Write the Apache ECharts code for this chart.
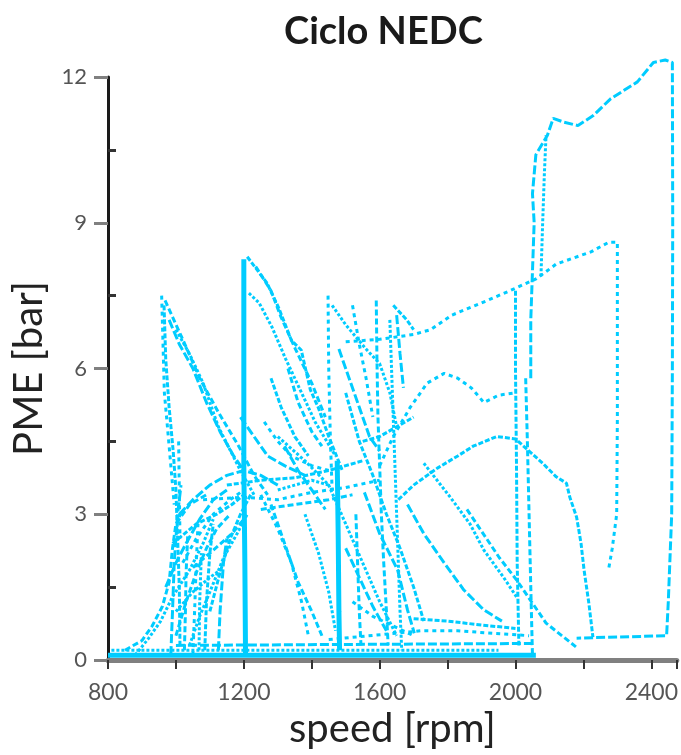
<!DOCTYPE html>
<html><head><meta charset="utf-8">
<script src="https://cdn.jsdelivr.net/npm/echarts@6/dist/echarts.min.js"></script>
<style>html,body{margin:0;padding:0;background:#fff}#c{width:681px;height:755px}</style>
</head><body><div id="c"></div>
<script>
// ---- axis ticks ----
const xTicks = [800, 1200, 1600, 2000, 2400];
const yTicks = [0, 3, 6, 9, 12];

// ---- traces: [speed rpm, PME bar] ----
const idleA = [[800,0.1],[2060,0.1]];
const idleB = [[810,0.2],[1950,0.2]];
const idleC = [[1000,0.3],[1500,0.32],[2050,0.34]];
const idleD = [[1450,0.42],[1720,0.6],[1830,0.6],[2040,0.5]];
const idleE = [[1700,0.85],[1800,0.8],[1900,0.72],[2000,0.65]];
const rampL1 = [[850,0.2],[900,0.4],[930,0.7],[960,1.1],[980,1.6],[990,2.3],[1000,2.8],[1040,3.2],[1090,3.4]];
const rampL2 = [[880,0.1],[920,0.45],[955,0.8],[990,1.3],[1040,1.85],[1080,2.4],[1110,2.9]];
const colA = [[985,0.1],[990,1.0],[995,2.0],[1005,3.0],[1015,3.6]];
const colB = [[1050,0.1],[1055,1.0],[1060,2.0],[1065,2.8]];
const colC = [[1085,0.2],[1090,1.2],[1100,2.2],[1110,2.8]];
const col1030 = [[1025,0.2],[1028,1.0],[1030,1.8],[1035,2.6]];
const col1070 = [[1068,0.2],[1070,1.2],[1075,2.2]];
const col1130 = [[1125,0.2],[1130,1.0],[1140,2.0],[1150,2.5]];
const col1010 = [[1008,4.5],[1010,3.5],[1012,2.5]];
const diagA = [[990,2.4],[1060,2.8],[1120,3.0],[1165,3.2],[1200,3.4]];
const diagB = [[1050,1.9],[1100,2.2],[1165,2.6],[1200,2.9]];
const diagC = [[1000,1.0],[1050,1.4],[1100,1.7],[1140,1.9]];
const leftUp1 = [[1010,3.0],[1050,3.3],[1100,3.6],[1150,3.8],[1200,3.9],[1250,3.8],[1300,3.6]];
const leftUp2 = [[1020,2.0],[1060,2.5],[1110,3.0],[1160,3.3],[1200,3.5]];
const leftUp3 = [[1100,1.0],[1130,1.8],[1160,2.5],[1190,3.0],[1220,3.4]];
const leftDense1 = [[1000,0.5],[1030,1.2],[1060,1.8],[1090,2.3],[1120,2.7],[1160,3.0]];
const leftDense2 = [[1040,0.3],[1070,0.9],[1100,1.4],[1140,2.1],[1180,2.6],[1210,3.0]];
const leftDense3 = [[970,1.5],[1000,2.0],[1030,2.4],[1070,2.9],[1110,3.3],[1150,3.5]];
const spike1 = [[958,7.5],[962,6.5],[966,5.5],[975,4.8],[985,4.0],[995,3.2]];
const spike1b = [[965,7.3],[970,6.2],[980,5.2],[992,4.3],[1000,3.5],[1005,2.5],[1010,1.5],[1012,0.3]];
const spike1DownA = [[968,7.4],[1020,6.6],[1070,5.8],[1125,5.1],[1185,4.4],[1230,3.8],[1270,3.4]];
const spike1DownB = [[1000,6.8],[1040,6.3],[1080,5.7],[1125,4.8],[1190,3.9],[1230,3.4]];
const leftDiag2 = [[980,7.0],[1010,6.5],[1050,6.0],[1090,5.3],[1130,4.7],[1170,4.2],[1200,3.9]];
const spike2 = [[1200,8.25],[1200,4.0],[1203,2.0],[1205,0.1]];
const spike2DownA = [[1210,8.3],[1268,7.76],[1302,7.26],[1340,6.58],[1369,6.38],[1396,5.56],[1419,5.2],[1450,4.6],[1490,3.9]];
const spike2DownB = [[1235,8.1],[1280,7.6],[1310,7.05],[1352,6.4],[1400,5.7],[1440,5.0]];
const spike2DownC = [[1215,7.55],[1245,7.35],[1283,6.85],[1323,6.2],[1370,5.5],[1410,4.9],[1470,4.2]];
const mid12a = [[1190,5.0],[1230,4.6],[1270,4.2],[1320,4.0],[1380,3.8]];
const mid12b = [[1260,4.9],[1300,4.5],[1340,4.2],[1400,4.0],[1450,3.9]];
const mid12c = [[1280,5.8],[1310,5.2],[1350,4.6],[1390,4.2]];
const mid12d = [[1330,6.0],[1360,5.3],[1400,4.7],[1430,4.4]];
const mid13a = [[1300,3.5],[1350,3.6],[1400,3.7],[1450,3.6]];
const mid13b = [[1320,4.4],[1360,3.9],[1400,3.5],[1440,3.1]];
const spike3 = [[1448,7.5],[1450,6.0],[1455,4.5],[1460,3.5]];
const col1475 = [[1475,4.1],[1478,2.5],[1480,1.0],[1482,0.2]];
const col1530 = [[1530,3.0],[1535,2.0],[1540,1.0],[1545,0.3]];
const spike3Down = [[1460,7.3],[1500,6.9],[1560,6.4],[1600,6.1],[1630,5.5],[1650,4.8]];
const mid15a = [[1480,6.4],[1510,5.8],[1540,5.2],[1570,4.6],[1600,4.3]];
const mid15b = [[1520,7.3],[1540,6.5],[1560,5.8],[1580,5.0]];
const mid15c = [[1550,4.5],[1600,4.6],[1650,4.8],[1700,5.0]];
const col1590 = [[1590,7.4],[1592,6.2],[1595,5.0],[1600,4.0],[1605,3.0],[1612,2.0],[1620,1.0],[1625,0.3]];
const col1640 = [[1630,7.0],[1635,6.0],[1640,5.0],[1645,4.0],[1650,3.0],[1655,2.0],[1660,1.0],[1665,0.2]];
const col1660 = [[1650,7.1],[1660,6.3],[1670,5.6]];
const upperRise = [[1500,6.55],[1600,6.6],[1700,6.7],[1750,6.8],[1813,7.1],[1900,7.35],[1983,7.6],[2062,7.85],[2120,8.15],[2222,8.4],[2275,8.6],[2300,8.6],[2300,5.0],[2298,3.0],[2285,2.3],[2275,1.9]];
const v2000 = [[2000,7.6],[2000,6.0],[2003,4.0],[2005,2.0],[2010,0.3]];
const v2040 = [[2030,5.8],[2035,4.5],[2040,3.0],[2045,1.5],[2050,0.1]];
const v2075 = [[2075,7.9],[2080,9.0],[2085,10.0],[2090,10.8]];
const topTrace = [[2045,5.8],[2045,7.0],[2050,8.0],[2055,9.0],[2050,9.6],[2060,10.4],[2094,10.8],[2111,11.15],[2143,11.07],[2184,11.0],[2228,11.2],[2280,11.55],[2359,11.9],[2406,12.3],[2441,12.35],[2462,12.3],[2463,9.0],[2462,6.0],[2460,3.0],[2450,1.2],[2445,0.5],[2180,0.45]];
const hump1 = [[1600,4.0],[1640,4.6],[1690,5.2],[1740,5.7],[1790,5.9],[1830,5.8],[1870,5.6],[1907,5.3],[1950,5.45],[2000,5.5]];
const hump2 = [[1655,3.3],[1700,3.6],[1770,3.95],[1830,4.2],[1875,4.4],[1945,4.6],[2000,4.55],[2040,4.3],[2080,4.05],[2120,3.77],[2150,3.64],[2160,3.35],[2180,2.94],[2193,2.4],[2202,1.85],[2216,1.17],[2228,0.47]];
const diagR1 = [[1857,3.1],[1953,2.1],[2003,1.65],[2090,0.76],[2178,0.27]];
const diagR2 = [[1730,4.05],[1808,3.35],[1866,2.8],[1907,2.26],[1965,1.7],[2003,1.3]];
const diagR3 = [[1682,3.2],[1730,2.6],[1790,2.0],[1848,1.44],[1907,1.03],[1960,0.8]];
const midH1 = [[1080,3.3],[1200,3.35],[1300,3.3],[1400,3.45],[1500,3.55],[1600,3.7]];
const midH2 = [[1150,3.6],[1250,3.7],[1350,3.75],[1450,3.9],[1550,4.1]];
const midH3 = [[1250,3.1],[1350,3.2],[1450,3.3],[1520,3.4]];
const midD1 = [[1300,4.6],[1380,4.1],[1450,3.6],[1500,2.8],[1550,2.0],[1600,1.2],[1650,0.5]];
const midD2 = [[1555,3.45],[1600,2.6],[1653,1.85],[1682,1.03],[1702,0.55]];
const midD3 = [[1250,3.4],[1300,2.7],[1340,2.0],[1370,1.2],[1390,0.5]];
const midD4 = [[1500,5.5],[1540,4.5],[1580,3.8],[1620,3.0],[1660,2.3],[1700,1.5],[1730,0.8]];
const midD5 = [[1280,3.2],[1320,2.4],[1360,1.6],[1400,1.0],[1430,0.5]];
const midD6 = [[1380,3.0],[1420,2.2],[1450,1.4],[1470,0.6]];
const midD7 = [[1500,2.3],[1540,1.7],[1580,1.1],[1620,0.6]];
const midD8 = [[1520,1.2],[1580,0.9],[1640,0.7],[1700,0.5]];
const topLeft1650 = [[1640,7.3],[1680,7.0],[1700,6.8]];

const traces = [idleA, idleB, idleC, idleD, idleE, rampL1, rampL2, colA, colB, colC, col1030, col1070, col1130, col1010,
  diagA, diagB, diagC, leftUp1, leftUp2, leftUp3, leftDense1, leftDense2, leftDense3,
  spike1, spike1b, spike1DownA, spike1DownB, leftDiag2,
  spike2, spike2DownA, spike2DownB, spike2DownC, mid12a, mid12b, mid12c, mid12d, mid13a, mid13b,
  spike3, col1475, col1530, spike3Down, mid15a, mid15b, mid15c, col1590, col1640, col1660,
  upperRise, v2000, v2040, v2075, topTrace, hump1, hump2, diagR1, diagR2, diagR3,
  midH1, midH2, midH3, midD1, midD2, midD3, midD4, midD5, midD6, midD7, midD8, topLeft1650];
const solidTraces = [idleA, spike2, col1475];
const dashPatterns = [[6, 3], [3, 2], [9, 3], [4, 4], [5, 2]];

const CYAN = '#00CCFF';
const series = traces.map(function (d, i) {
  const solid = solidTraces.indexOf(d) >= 0;
  return {
    type: 'line', data: d, symbol: 'none', silent: true, animation: false,
    clip: d !== topTrace,
    lineStyle: { color: CYAN, width: solid ? 5 : 3, type: solid ? 'solid' : dashPatterns[i % dashPatterns.length], cap: 'butt' }
  };
});

const chart = echarts.init(document.getElementById('c'), null, { renderer: 'canvas' });
chart.setOption({
  backgroundColor: '#fff',
  animation: false,
  title: {
    text: 'Ciclo NEDC', left: 279, top: 8,
    textStyle: { fontFamily: 'Lato', fontWeight: 'bold', fontSize: 38, color: '#1a1a1a' }
  },
  grid: { left: 108, right: 0, top: 77, bottom: 95, containLabel: false },
  xAxis: {
    type: 'value', min: 800, max: 2475, interval: 200,
    name: 'speed [rpm]', nameLocation: 'middle', nameGap: 45,
    nameTextStyle: { fontFamily: 'Lato', fontSize: 40, color: '#222' },
    axisLine: { show: true, onZero: false, lineStyle: { color: '#808080', width: 5 } },
    axisTick: { show: true, length: 9, lineStyle: { color: '#333', width: 2 } },
    axisLabel: {
      margin: 21, fontFamily: 'Lato', fontSize: 23, color: '#555',
      formatter: function (v) { return xTicks.indexOf(v) >= 0 ? String(v) : ''; }
    },
    splitLine: { show: false }
  },
  yAxis: [{
    type: 'value', min: 0, max: 12, interval: 3, position: 'left',
    name: 'PME [bar]', nameLocation: 'middle', nameGap: 59,
    nameTextStyle: { fontFamily: 'Lato', fontSize: 40, color: '#222' },
    axisLine: { show: true, onZero: false, lineStyle: { color: '#1a1a1a', width: 3 } },
    axisTick: { show: true, length: 14, lineStyle: { color: '#808080', width: 3 } },
    axisLabel: {
      margin: 21, fontFamily: 'Lato', fontSize: 22, color: '#555',
      formatter: function (v) { return yTicks.indexOf(v) >= 0 ? String(v) : ''; }
    },
    splitLine: { show: false }
  }, {
    type: 'value', min: 0, max: 12, interval: 3, position: 'left', offset: 0,
    axisLine: { show: false }, axisLabel: { show: false }, splitLine: { show: false },
    axisTick: { show: false, inside: true },
    minorTick: { show: true, splitNumber: 2, length: 8, lineStyle: { color: '#333', width: 3 } }
  }],
  series: series
});
</script></body></html>
